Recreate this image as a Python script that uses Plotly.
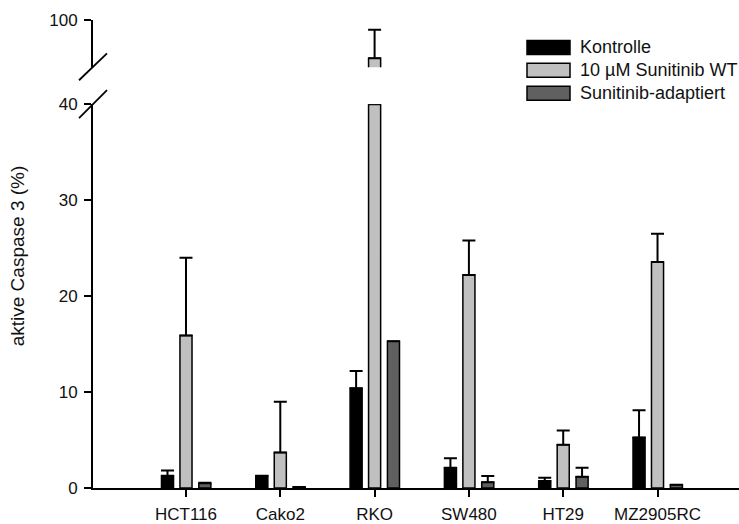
import plotly.graph_objects as go

# Data: active caspase 3 (%) per cell line
cell_lines = ["HCT116", "Cako2", "RKO", "SW480", "HT29", "MZ2905RC"]
kontrolle = [1.27, 1.27, 10.4, 2.1, 0.73, 5.25]
kontrolle_err = [0.56, 0.0, 1.8, 1.0, 0.34, 2.85]
sunitinib_wt = [15.9, 3.7, 83.8, 22.2, 4.5, 23.55]
sunitinib_wt_err = [8.1, 5.3, 11.9, 3.6, 1.5, 2.95]
adaptiert = [0.49, 0.1, 15.3, 0.6, 1.17, 0.35]
adaptiert_err = [0.06, 0.0, 0.0, 0.65, 0.93, 0.0]

series_names = ["Kontrolle", "10 µM Sunitinib WT", "Sunitinib-adaptiert"]
series_colors = ["#000000", "#c0c0c0", "#606060"]

# Broken axis segments
LOWER_MAX = 40
UPPER_MIN, UPPER_MAX = 80, 100

# Figure geometry (pixels)
W, H = 739, 524
ML, MR, MT, MB = 93, 0, 0, 35
PW, PH = W - ML - MR, H - MT - MB
YK = 0.985  # vertical calibration of the pixel helper


def px_x(px):
    return (px - ML) / PW


def px_y(py):
    return (H - MB - py) / (PH * YK)


FONT = "Arial, Liberation Sans, sans-serif"
BAR_W = 0.128
CENTERS = [-0.196, 0.0, 0.2]
x = list(range(len(cell_lines)))

fig = go.Figure()


def err_style(arr):
    return dict(type="data", symmetric=False, array=arr,
                arrayminus=[0] * len(arr), color="#000000",
                thickness=2, width=6.5)


values = [kontrolle, sunitinib_wt, adaptiert]
errors = [kontrolle_err, sunitinib_wt_err, adaptiert_err]

for name, col, vals, errs, c in zip(series_names, series_colors, values, errors, CENTERS):
    lower_vals = [min(v, LOWER_MAX) for v in vals]
    lower_errs = [e if v <= LOWER_MAX else 0 for v, e in zip(vals, errs)]
    fig.add_trace(go.Bar(
        x=x, y=lower_vals, name=name, width=BAR_W, offset=c - BAR_W / 2,
        marker=dict(color=col, line=dict(color="#000000", width=1.5)),
        error_y=err_style(lower_errs), xaxis="x", yaxis="y",
        showlegend=False,
    ))
    # portions above the break go on the upper segment
    up_x = [xi for xi, v in zip(x, vals) if v > LOWER_MAX]
    if up_x:
        up_v = [v for v in vals if v > LOWER_MAX]
        up_e = [e for v, e in zip(vals, errs) if v > LOWER_MAX]
        fig.add_trace(go.Bar(
            x=up_x, y=up_v, name=name, width=BAR_W, offset=c - BAR_W / 2,
            marker=dict(color=col, line=dict(color="#000000", width=1.5)),
            error_y=err_style(up_e), xaxis="x", yaxis="y2",
            showlegend=False,
        ))

axis_common = dict(showline=True, linecolor="#000000", linewidth=1.8,
                   ticks="outside", ticklen=7, tickwidth=1.5, tickcolor="#000000",
                   showgrid=False, zeroline=False, ticklabelstandoff=3,
                   tickfont=dict(family=FONT, size=17, color="#111111"))

fig.update_layout(
    width=W, height=H,
    margin=dict(l=ML, r=MR, t=MT, b=MB),
    paper_bgcolor="white", plot_bgcolor="white",
    barmode="overlay",
    showlegend=False,
    xaxis=dict(range=[-0.986, 5.864], tickvals=x, ticktext=cell_lines,
               anchor="y", **axis_common),
    yaxis=dict(domain=[0, px_y(103)], range=[0, LOWER_MAX],
               tickvals=[0, 10, 20, 30, 40], anchor="x", **axis_common),
    yaxis2=dict(domain=[px_y(66), min(1.0, px_y(18))], range=[UPPER_MIN, UPPER_MAX],
                tickvals=[100], anchor="x", **axis_common),
)

# Axis title
fig.add_annotation(text="aktive Caspase 3 (%)", xref="paper", yref="paper",
                   x=px_x(17), y=px_y(256), textangle=-90, showarrow=False,
                   font=dict(family=FONT, size=19, color="#111111"),
                   xanchor="center", yanchor="middle")

# Break marks on the y axis
for (x0, y0, x1, y1) in [(79, 79, 107, 52), (79, 117, 107, 89)]:
    fig.add_shape(type="line", xref="paper", yref="paper",
                  x0=px_x(x0), y0=px_y(y0), x1=px_x(x1), y1=px_y(y1),
                  line=dict(color="#000000", width=1.8))

# Legend with wide swatches
legend_rows = [46, 69, 92]
for name, col, ry in zip(series_names, series_colors, legend_rows):
    fig.add_shape(type="rect", xref="paper", yref="paper",
                  x0=px_x(527), x1=px_x(570), y0=px_y(ry - 7), y1=px_y(ry + 7),
                  fillcolor=col, line=dict(color="#000000", width=1.5))
    fig.add_annotation(text=name, xref="paper", yref="paper",
                       x=px_x(578), y=px_y(ry), showarrow=False,
                       xanchor="left", yanchor="middle",
                       font=dict(family=FONT, size=18, color="#111111"))

fig.write_html("out.html")
